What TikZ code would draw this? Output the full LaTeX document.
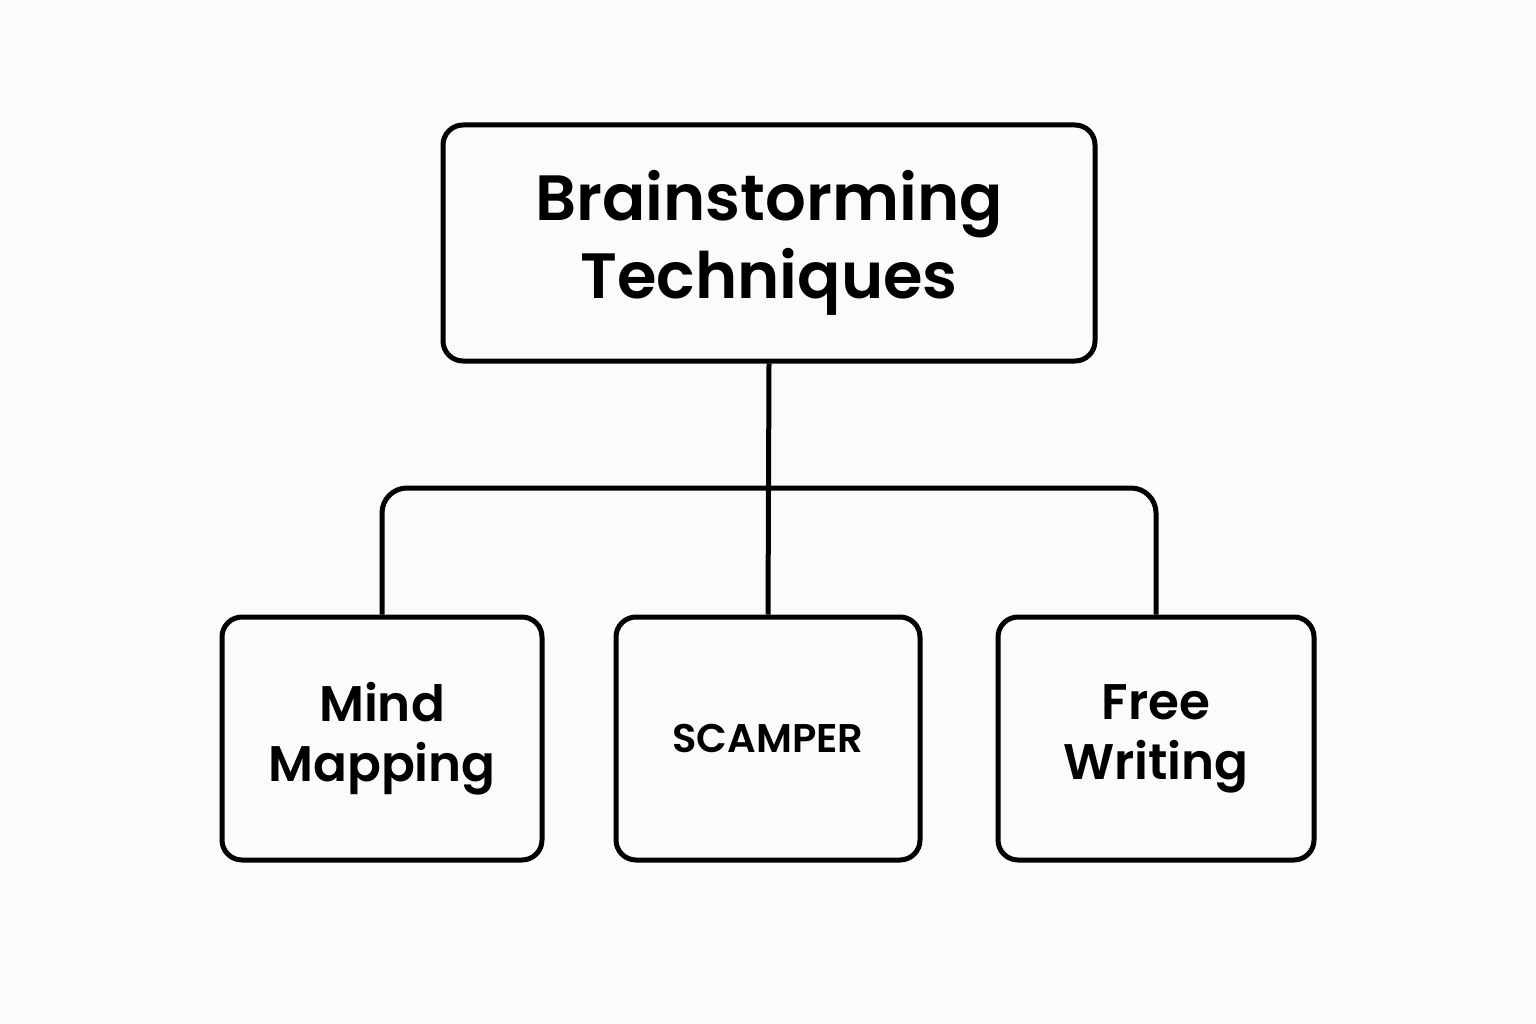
\documentclass[tikz,border=0pt]{standalone}
\usepackage{fontspec}
\setmainfont{Poppins}[BoldFont={* SemiBold}]
\begin{document}
\begin{tikzpicture}[x=1pt,y=1pt,
  box/.style={draw=black,line width=5pt,rounded corners=20pt,align=center,inner sep=0pt,font=\bfseries},
  conn/.style={line width=5pt}]
\fill[fill={rgb,255:red,252;green,251;blue,249}] (0,0) rectangle (1536,-1024);
\useasboundingbox (0,0) rectangle (1536,-1024);
\node[box,minimum width=652pt,minimum height=236pt,font=\fontsize{64}{78}\selectfont\bfseries] (top) at (769,-243) {Brainstorming\\Techniques};
\node[box,minimum width=320pt,minimum height=243pt,font=\fontsize{50}{60}\selectfont\bfseries] (mm) at (382,-738.5) {Mind\\Mapping};
\node[box,minimum width=304pt,minimum height=243pt,font=\fontsize{40}{48}\selectfont\bfseries] (sc) at (768,-738.5) {SCAMPER};
\node[box,minimum width=316pt,minimum height=243pt,font=\fontsize{50}{60}\selectfont\bfseries] (fw) at (1156,-738.5) {Free\\Writing};
\coordinate (mid) at (769,-488);
\draw[conn] (top.south) -- (sc.north);
\draw[conn,rounded corners=25pt] (mm.north) |- (mid) -| (fw.north);
\end{tikzpicture}
\end{document}
